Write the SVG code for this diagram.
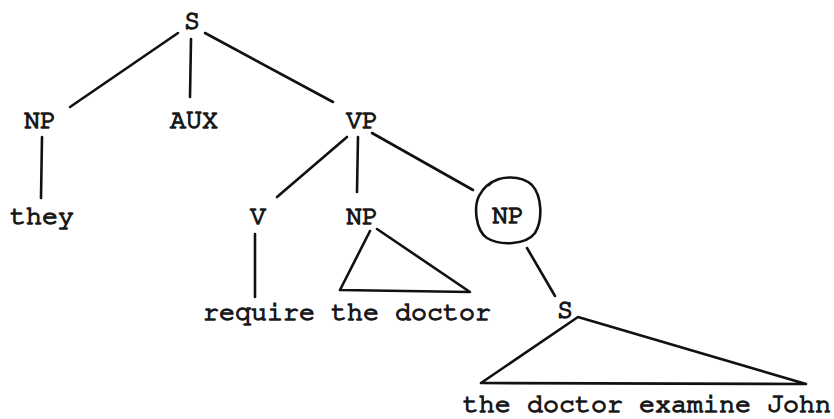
<svg xmlns="http://www.w3.org/2000/svg" width="834" height="419" viewBox="0 0 834 419">
  <style>
    .lbl { font-family: FreeMono, "Liberation Mono", monospace; font-size: 26.7px; fill: #1a1a1a; stroke: #1a1a1a; stroke-width: 1.4px; text-anchor: middle; }
    .edge { stroke: #111; stroke-width: 2.6; stroke-linecap: round; stroke-linejoin: round; fill: none; }
  </style>
  <rect width="834" height="419" fill="#fff"/>

  <!-- tree branches -->
  <g id="connectors" class="edge">
    <line x1="178" y1="33" x2="70" y2="107"/>
    <line x1="191" y1="39" x2="190" y2="97"/>
    <line x1="205" y1="33" x2="333" y2="102"/>
    <line x1="42" y1="137" x2="41" y2="198"/>
    <line x1="347" y1="137" x2="277" y2="197"/>
    <line x1="358" y1="137" x2="357" y2="192"/>
    <line x1="372" y1="133" x2="473" y2="190"/>
    <line x1="255" y1="234" x2="255" y2="297"/>
    <!-- NP roof over "the doctor" -->
    <polyline points="370,231 340,290 470,292 377,229"/>
    <line x1="527" y1="248" x2="555" y2="296"/>
    <!-- S roof over "the doctor examine John" -->
    <polygon points="578,317 481,383 806,384"/>
  </g>

  <g id="n-S"><text class="lbl" x="192" y="29">S</text></g>
  <g id="n-NP1"><text class="lbl" x="40" y="128">NP</text></g>
  <g id="n-AUX"><text class="lbl" x="194" y="128">AUX</text></g>
  <g id="n-VP"><text class="lbl" x="362" y="128">VP</text></g>
  <g id="n-they"><text class="lbl" x="42" y="224">they</text></g>
  <g id="n-V"><text class="lbl" x="258" y="224">V</text></g>
  <g id="n-NP2"><text class="lbl" x="362" y="224">NP</text></g>
  <g id="n-NP3">
    <!-- hand-drawn ring round the NP, ends overlapping at upper left -->
    <path class="edge" d="M 489 185 C 497 176, 520 174, 532 185 C 542 196, 543 220, 535 233 C 526 245, 500 246, 487 238 C 475 230, 474 206, 479 196 C 483 188, 490 182, 499 179"/>
    <text class="lbl" x="508" y="223">NP</text>
  </g>
  <g id="n-require"><text class="lbl" x="347" y="320">require the doctor</text></g>
  <g id="n-S2"><text class="lbl" x="565" y="318">S</text></g>
  <g id="n-embedded"><text class="lbl" x="647" y="412">the doctor examine John</text></g>
</svg>
